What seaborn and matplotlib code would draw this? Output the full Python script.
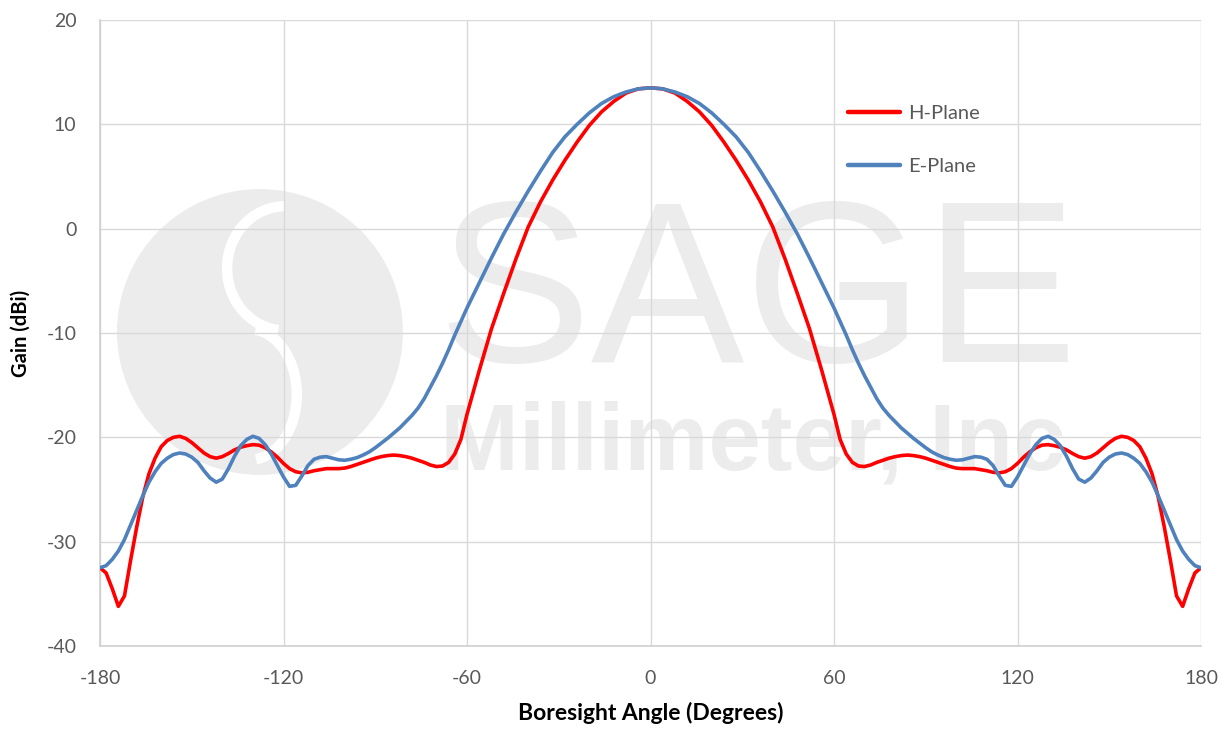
import pandas as pd
import seaborn as sns
import matplotlib.pyplot as plt
from matplotlib.ticker import MultipleLocator
from matplotlib.patches import Ellipse, Arc

# boresight angles: 2 deg steps in the side lobes, 4 deg across the main lobe
angle = list(range(-180, -59, 2)) + list(range(-56, 57, 4)) + list(range(60, 181, 2))

# H-plane gain (dBi)
h_left = [
    -32.5, -33.0, -34.5, -36.2, -35.2, -31.8, -28.6, -25.7, -23.5, -22.0,
    -20.9, -20.3, -20.0, -19.9, -20.1, -20.5, -21.0, -21.5, -21.85, -22.0,
    -21.85, -21.55, -21.2, -20.95, -20.8, -20.7, -20.75, -21.0, -21.4, -21.9,
    -22.5, -23.0, -23.3, -23.4, -23.35, -23.2, -23.1, -23.0, -23.0, -23.0,
    -22.95, -22.8, -22.6, -22.4, -22.2, -22.0, -21.85, -21.75, -21.7, -21.75,
    -21.85, -22.0, -22.2, -22.4, -22.65, -22.8, -22.75, -22.4, -21.6, -20.2,
    -17.8,
]
h_main = [
    -13.6, -9.6, -6.2, -2.9, 0.15, 2.55, 4.65, 6.55, 8.3, 9.9, 11.2, 12.2, 13.0, 13.4,
    13.5,
    13.4, 13.0, 12.2, 11.2, 9.9, 8.3, 6.55, 4.65, 2.55, 0.15, -2.9, -6.2, -9.6, -13.6,
]
h_right = [
    -17.8,
    -20.2, -21.6, -22.4, -22.75, -22.8, -22.65, -22.4, -22.2, -22.0, -21.85,
    -21.75, -21.7, -21.75, -21.85, -22.0, -22.2, -22.4, -22.6, -22.8, -22.95,
    -23.0, -23.0, -23.0, -23.1, -23.2, -23.35, -23.4, -23.3, -23.0, -22.5,
    -21.9, -21.4, -21.0, -20.75, -20.7, -20.8, -20.95, -21.2, -21.55, -21.85,
    -22.0, -21.85, -21.5, -21.0, -20.5, -20.1, -19.9, -20.0, -20.3, -20.9,
    -22.0, -23.5, -25.7, -28.6, -31.8, -35.2, -36.2, -34.5, -33.0, -32.5,
]

# E-plane gain (dBi)
e_left = [
    -32.5, -32.3, -31.7, -30.9, -29.8, -28.4, -27.0, -25.6, -24.3, -23.3,
    -22.5, -22.0, -21.65, -21.5, -21.6, -21.9, -22.4, -23.2, -23.9, -24.3,
    -24.0, -23.0, -21.8, -20.8, -20.2, -19.9, -20.1, -20.7, -21.6, -22.7,
    -23.8, -24.7, -24.6, -23.7, -22.7, -22.1, -21.9, -21.85, -22.0, -22.15,
    -22.2, -22.1, -21.95, -21.7, -21.4, -21.0, -20.55, -20.1, -19.6, -19.1,
    -18.5, -17.9, -17.2, -16.3, -15.2, -14.1, -12.9, -11.6, -10.2, -8.9,
    -7.6,
]
e_main = [
    -5.2, -2.8, -0.5, 1.6, 3.6, 5.5, 7.3, 8.8, 10.0, 11.1, 12.0, 12.65, 13.1, 13.4,
    13.5,
    13.4, 13.1, 12.65, 12.0, 11.1, 10.0, 8.8, 7.3, 5.5, 3.6, 1.6, -0.5, -2.8, -5.2,
]
e_right = [
    -7.6,
    -8.9, -10.2, -11.6, -12.9, -14.1, -15.2, -16.3, -17.2, -17.9, -18.5,
    -19.1, -19.6, -20.1, -20.55, -21.0, -21.4, -21.7, -21.95, -22.1, -22.2,
    -22.15, -22.0, -21.85, -21.9, -22.1, -22.7, -23.7, -24.6, -24.7, -23.8,
    -22.7, -21.6, -20.7, -20.1, -19.9, -20.2, -20.8, -21.8, -23.0, -24.0,
    -24.3, -23.9, -23.2, -22.4, -21.9, -21.6, -21.5, -21.65, -22.0, -22.5,
    -23.3, -24.3, -25.6, -27.0, -28.4, -29.8, -30.9, -31.7, -32.3, -32.5,
]

h_plane = h_left + h_main + h_right
e_plane = e_left + e_main + e_right

series_names = ["H-Plane", "E-Plane"]
series_colors = {"H-Plane": "#FF0000", "E-Plane": "#4F81BD"}

df = pd.DataFrame({
    "angle": angle * 2,
    "gain": h_plane + e_plane,
    "plane": [series_names[0]] * len(angle) + [series_names[1]] * len(angle),
})

sns.set_style("white")
plt.rcParams["font.family"] = ["Lato", "DejaVu Sans"]
plt.rcParams["axes.unicode_minus"] = False

W, H = 1231, 730
fig = plt.figure(figsize=(W / 100, H / 100), dpi=100)
ax = fig.add_axes([100 / W, 1 - 646 / H, 1101 / W, 626 / H])

# faint company watermark behind the plot
wm = "#ececec"
ax.add_patch(Ellipse((-127.7, -9.9), 93.5, 27.4, color=wm, lw=0, zorder=0.1))
ax.add_patch(Arc((-119.5, -3.8), 37.9, 11.9, theta1=90, theta2=250,
                 color="white", lw=7.5, zorder=0.15))
ax.add_patch(Arc((-131.0, -15.9), 30.7, 12.5, theta1=-72, theta2=74,
                 color="white", lw=7.5, zorder=0.15))
ax.text(438 / W, 1 - 362 / H, "SAGE", transform=fig.transFigure, fontsize=166,
        color=wm, family="Liberation Sans", ha="left", va="baseline", zorder=0.2)
ax.text(440 / W, 1 - 470 / H, "Millimeter, Inc", transform=fig.transFigure,
        fontsize=68, fontweight="bold", color=wm, family="Liberation Sans",
        ha="left", va="baseline", zorder=0.2)

sns.lineplot(data=df, x="angle", y="gain", hue="plane", hue_order=series_names,
             palette=series_colors, linewidth=2.6, solid_joinstyle="round",
             ax=ax, zorder=3)

ax.set_xlim(-180, 180)
ax.set_ylim(-40, 20)
ax.set_xticks(range(-180, 181, 60))
ax.set_yticks(range(-40, 21, 10))
ax.xaxis.set_minor_locator(MultipleLocator(10))
ax.yaxis.set_minor_locator(MultipleLocator(2))
ax.grid(True, which="major", color="#d9d9d9", linewidth=1.0)
ax.set_axisbelow(True)
for side in ["top", "right"]:
    ax.spines[side].set_visible(False)
for side in ["left", "bottom"]:
    ax.spines[side].set_color("#d0d0d0")
    ax.spines[side].set_linewidth(1.2)
ax.tick_params(which="major", length=0, labelsize=14, labelcolor="#595959", pad=17)
ax.tick_params(which="minor", direction="in", length=5, width=1.0, color="#c8c8c8")

ax.set_xlabel("Boresight Angle (Degrees)", fontsize=16.5, fontweight="bold", color="black")
ax.set_ylabel("Gain (dBi)", fontsize=14.5, fontweight="bold", color="black")
ax.xaxis.set_label_coords(0.5, -0.09)
ax.yaxis.set_label_coords(-0.063, 0.5)

leg = ax.legend(loc="center left", bbox_to_anchor=(848 / W, 1 - 140 / H),
                bbox_transform=fig.transFigure, frameon=False, fontsize=14.5,
                handlelength=2.6, handletextpad=0.4, labelspacing=1.75,
                borderpad=0, borderaxespad=0)
for line in leg.get_lines():
    line.set_linewidth(3.2)
    line.set_solid_capstyle("round")
for t in leg.get_texts():
    t.set_color("#595959")

fig.savefig("out.png", dpi=100)
